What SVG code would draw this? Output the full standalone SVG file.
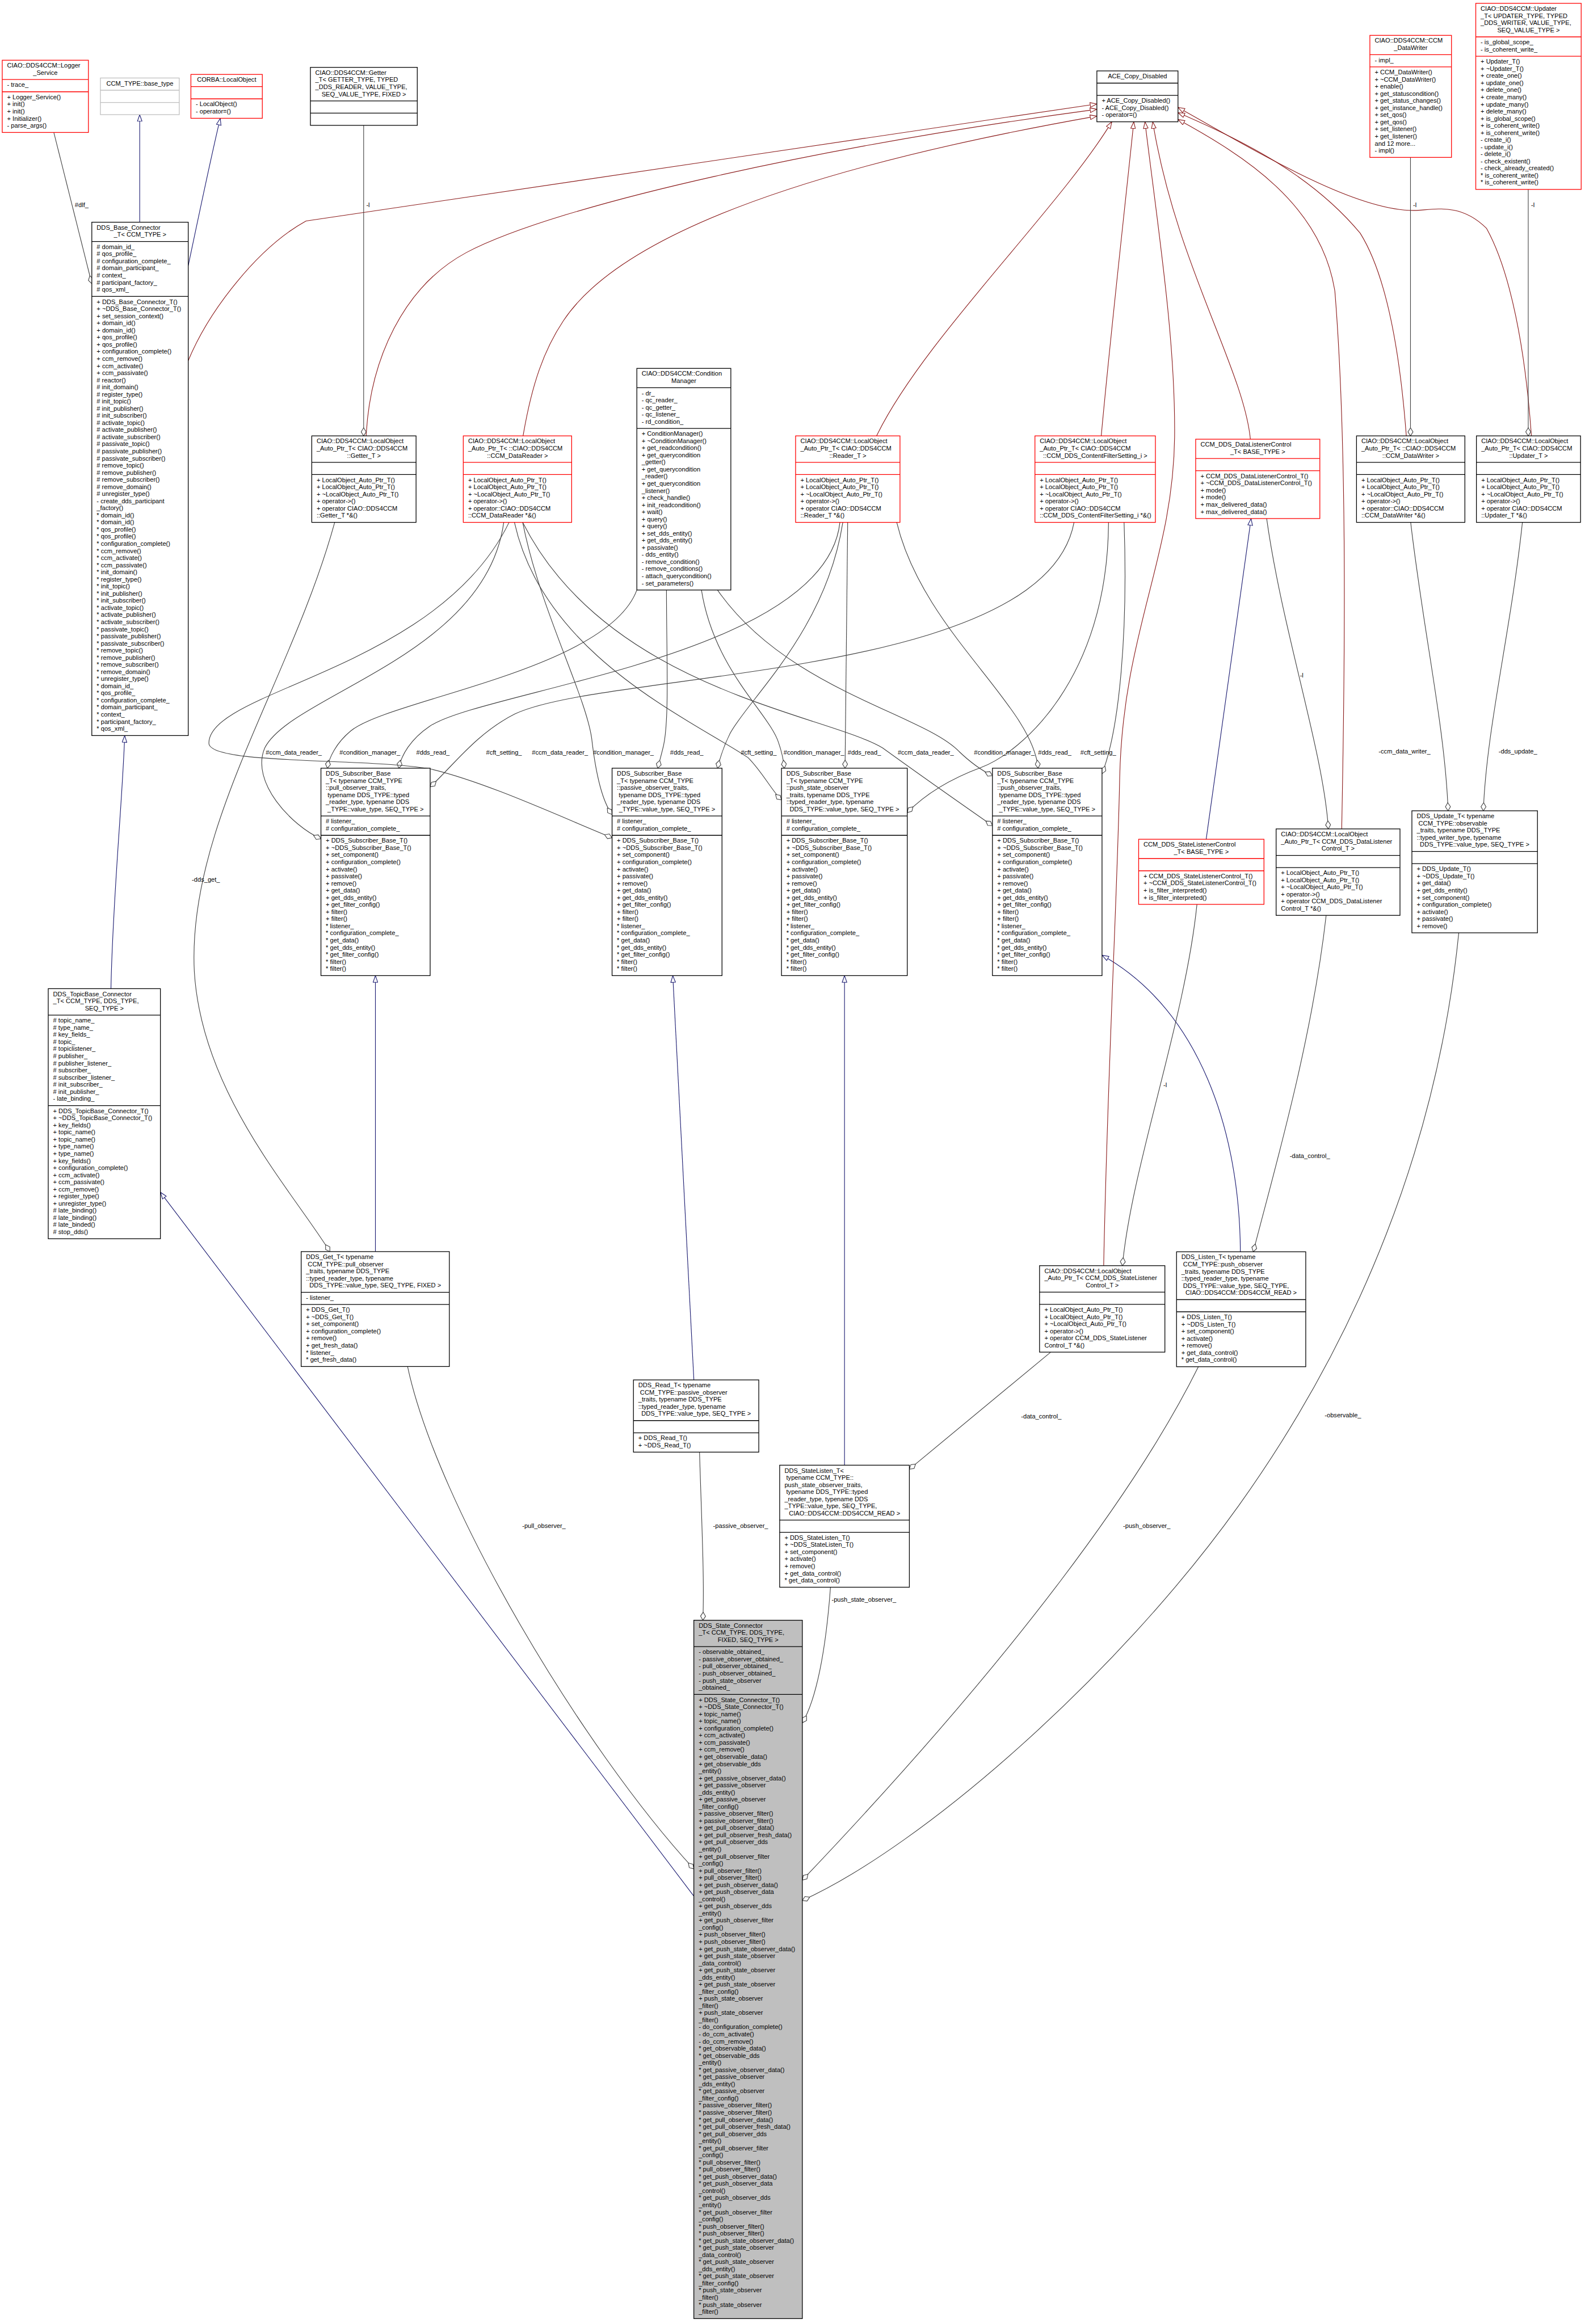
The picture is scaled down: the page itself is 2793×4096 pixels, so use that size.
<svg xmlns="http://www.w3.org/2000/svg" width="2793" height="4096" viewBox="0 0 2793 4096">
<style>
text{font-family:"Liberation Sans",Arial,Helvetica,sans-serif;font-size:13px;fill:#000}
.c{text-anchor:middle}
.n rect{fill:#fff;stroke:#000;stroke-width:1.5}
.n line{stroke:#000;stroke-width:1.5}
.r rect,.r line{stroke:#ff0000}
.g rect,.g line{stroke:#bfbfbf}
.f rect{fill:#bfbfbf}
.e{fill:none;stroke-width:1.3}
.bl{stroke:#191970;marker-end:url(#tb)}
.rd{stroke:#8b1a1a;marker-end:url(#tr)}
.gy{stroke:#404040;marker-end:url(#dm)}
</style>
<defs>
<marker id="tb" viewBox="0 0 15 11" refX="14.5" refY="5.5" markerWidth="15" markerHeight="11" orient="auto" markerUnits="userSpaceOnUse"><path d="M0.7,0.7 L14.3,5.5 L0.7,10.3 z" fill="#fff" stroke="#191970" stroke-width="1.3"/></marker>
<marker id="tr" viewBox="0 0 15 11" refX="14.5" refY="5.5" markerWidth="15" markerHeight="11" orient="auto" markerUnits="userSpaceOnUse"><path d="M0.7,0.7 L14.3,5.5 L0.7,10.3 z" fill="#fff" stroke="#8b1a1a" stroke-width="1.3"/></marker>
<marker id="dm" viewBox="0 0 18 12" refX="17.3" refY="6" markerWidth="18" markerHeight="12" orient="auto" markerUnits="userSpaceOnUse"><path d="M0.7,6 L9,0.8 L17.3,6 L9,11.2 z" fill="#fff" stroke="#404040" stroke-width="1.3"/></marker>
</defs>
<rect width="2793" height="4096" fill="#fff"/>
<g transform="scale(0.856)">
<g id="connectors">
<path class="e bl" d="M287.6,457.5 L287.6,236.05"/>
<path class="e bl" d="M387.5,547 C410,440 435,320 453.5,243.55"/>
<path class="e bl" d="M228.4,2035.6 C232,1850 252,1650 256.7,1514.5"/>
<path class="e bl" d="M1428.3,3904 L330.2,2454.8"/>
<path class="e bl" d="M772.8,2577 L772.8,2008.75"/>
<path class="e bl" d="M1428.4,2841.2 L1385,2008.75"/>
<path class="e bl" d="M1738.5,3016.8 L1738.5,2008.75"/>
<path class="e bl" d="M2553.4,2577.4 C2552,2330 2470,2080 2268.6,1966.7"/>
<path class="e bl" d="M2483,1728 L2575.5,1067.65"/>
<path class="e rd" d="M387.5,742.5 C430,640 530,510 630,455 L2258,214"/>
<path class="e rd" d="M753.7,897.5 C762,740 830,590 960,520 C1150,420 1700,300 2258,225"/>
<path class="e rd" d="M1076.8,897.5 C1095,790 1120,720 1160,660 C1300,450 1800,320 2258,239"/>
<path class="e rd" d="M1804.5,897.5 C1900,700 2180,430 2288.8,250.75"/>
<path class="e rd" d="M2267,897.5 C2285,700 2310,480 2334,250.75"/>
<path class="e rd" d="M2574,904.3 C2560,760 2420,540 2373,250.75"/>
<path class="e rd" d="M2272,2606 C2280,2200 2300,1850 2305,1600 C2312,1300 2415,1150 2418,900 C2420,700 2385,480 2357,250.75"/>
<path class="e rd" d="M2762,1706.7 C2770,1300 2772,900 2748,600 C2720,420 2560,320 2425,246"/>
<path class="e rd" d="M2895,897.5 C2880,700 2850,560 2800,480 C2700,360 2560,290 2425,232"/>
<path class="e rd" d="M3152.5,897.5 C3140,720 3110,560 3060,470 C3010,420 2960,430 2920,433 C2800,440 2600,320 2425,221"/>
<path class="e gy" d="M110.8,272.7 L189,584"/>
<path class="e gy" d="M748.6,258.1 L748.6,897.5"/>
<path class="e gy" d="M2903.6,324.05 L2903.6,897.5"/>
<path class="e gy" d="M3146,390 L3146,897.5"/>
<path class="e gy" d="M689,1075.5 C600,1400 385,1700 400,2000 C415,2250 600,2450 679,2577"/>
<path class="e gy" d="M2607.5,1067.65 C2640,1300 2725,1550 2734.5,1706.7"/>
<path class="e gy" d="M2464,1862.05 C2440,2100 2330,2400 2310.6,2606"/>
<path class="e gy" d="M2904,1075.5 C2930,1300 2975,1500 2981,1669.4"/>
<path class="e gy" d="M3134,1075.5 C3110,1300 3060,1500 3053.6,1669.4"/>
<path class="e gy" d="M2730,1884.7 C2700,2150 2620,2420 2580,2577.4"/>
<path class="e gy" d="M2163,2784 L1872,3025"/>
<path class="e gy" d="M839,2813.6 C900,3100 1200,3600 1428.3,3848"/>
<path class="e gy" d="M1440,2989.9 C1445,3150 1450,3250 1447,3336"/>
<path class="e gy" d="M1709.6,3268.05 C1700,3400 1680,3500 1651.7,3547"/>
<path class="e gy" d="M2467,2814 C2350,3050 2100,3400 1651.7,3871"/>
<path class="e gy" d="M3003,1920.65 C2960,2350 2800,2750 2550,3100 C2300,3450 1900,3800 1651.7,3913"/>
<path class="e gy" d="M1311,1214.85 C1250,1380 800,1440 722,1505 C692,1530 677,1560 674,1581.7"/>
<path class="e gy" d="M1729,1075.5 C1700,1350 1000,1420 885,1495 C845,1522 826,1555 821,1581.7"/>
<path class="e gy" d="M2211,1075.5 C2150,1400 1250,1380 1060,1470 C980,1510 930,1580 885.5,1620"/>
<path class="e gy" d="M1037,1075.5 C1000,1350 600,1430 545,1540 C515,1610 600,1700 660.7,1727"/>
<path class="e gy" d="M1076,1075.5 C1110,1250 1205,1430 1218,1520 C1226,1590 1240,1650 1260,1677"/>
<path class="e gy" d="M1048,1075.5 C900,1380 430,1420 430,1530 C430,1575 750,1560 885,1583 C1000,1610 1150,1680 1260,1725"/>
<path class="e gy" d="M1372,1214.85 C1372,1350 1378,1480 1366,1535 C1361,1556 1357,1570 1354,1581.7"/>
<path class="e gy" d="M1735,1075.5 C1700,1300 1540,1440 1503,1510 C1488,1540 1481,1565 1477,1581.7"/>
<path class="e gy" d="M1059,1075.5 C1120,1350 1420,1480 1540,1560 C1570,1590 1590,1630 1608.75,1647"/>
<path class="e gy" d="M1444,1214.85 C1470,1380 1585,1470 1603,1530 C1610,1550 1613,1566 1614.6,1581.7"/>
<path class="e gy" d="M1745,1075.5 L1739.6,1581.7"/>
<path class="e gy" d="M2282,1075.5 C2280,1400 2100,1550 2020,1580 C1950,1606 1900,1640 1867.7,1673"/>
<path class="e gy" d="M1076,1075.5 C1250,1420 1700,1470 1817,1540 C1900,1600 2000,1670 2043,1700"/>
<path class="e gy" d="M1477,1214.85 C1620,1420 1900,1470 1974,1547 C1998,1570 2020,1586 2043,1597"/>
<path class="e gy" d="M1846,1075.5 C1900,1300 2125,1450 2137,1581.7"/>
<path class="e gy" d="M2314,1075.5 C2322,1300 2305,1500 2268.6,1593"/>
<g id="edge-labels">
<text x="154" y="426.5">#dlf_</text>
<text x="754" y="426.5">-l</text>
<text x="2909" y="426.5">-l</text>
<text x="3152" y="426.5">-l</text>
<text x="395" y="1815">-dds_get_</text>
<text x="2676" y="1395">-l</text>
<text x="2395" y="2238">-l</text>
<text x="2838" y="1551">-ccm_data_writer_</text>
<text x="3085" y="1551">-dds_update_</text>
<text x="2655" y="2384">-data_control_</text>
<text x="2102" y="2920">-data_control_</text>
<text x="1075" y="3146">-pull_observer_</text>
<text x="1468" y="3146">-passive_observer_</text>
<text x="1712" y="3298">-push_state_observer_</text>
<text x="2312" y="3146">-push_observer_</text>
<text x="2727" y="2918">-observable_</text>
<text x="547" y="1553.5">#ccm_data_reader_</text>
<text x="699" y="1553.5">#condition_manager_</text>
<text x="857" y="1553.5">#dds_read_</text>
<text x="1000.6" y="1553.5">#cft_setting_</text>
<text x="1095" y="1553.5">#ccm_data_reader_</text>
<text x="1221" y="1553.5">#condition_manager_</text>
<text x="1379.5" y="1553.5">#dds_read_</text>
<text x="1525" y="1553.5">#cft_setting_</text>
<text x="1613" y="1553.5">#condition_manager_</text>
<text x="1745" y="1553.5">#dds_read_</text>
<text x="1848" y="1553.5">#ccm_data_reader_</text>
<text x="2005" y="1553.5">#condition_manager_</text>
<text x="2137" y="1553.5">#dds_read_</text>
<text x="2224" y="1553.5">#cft_setting_</text>
</g>
</g>

<g id="logger" class="n r">
<rect x="4.6" y="124" width="177.4" height="148.7"/>
<line x1="4.6" y1="163.8" x2="182" y2="163.8"/><line x1="4.6" y1="188.95" x2="182" y2="188.95"/>
<text x="14.6" y="139.4">CIAO::DDS4CCM::Logger</text>
<text class="c" x="93.3" y="154.05">_Service</text>
<text x="14.6" y="179.2">- trace_</text>
<text><tspan x="14.6" y="204.35">+ Logger_Service()</tspan><tspan x="14.6" dy="14.65">+ init()</tspan><tspan x="14.6" dy="14.65">+ init()</tspan><tspan x="14.6" dy="14.65">+ Initializer()</tspan><tspan x="14.6" dy="14.65">- parse_args()</tspan></text>
</g>

<g id="base_type" class="n g">
<rect x="206.7" y="160.6" width="162.3" height="75.45"/>
<line x1="206.7" y1="185.75" x2="369" y2="185.75"/><line x1="206.7" y1="210.9" x2="369" y2="210.9"/>
<text class="c" x="287.85" y="176">CCM_TYPE::base_type</text>
</g>

<g id="corba_localobject" class="n r">
<rect x="393" y="153.25" width="147" height="90.3"/>
<line x1="393" y1="178.4" x2="540" y2="178.4"/><line x1="393" y1="203.55" x2="540" y2="203.55"/>
<text class="c" x="466.5" y="168.65">CORBA::LocalObject</text>
<text><tspan x="403" y="218.95">- LocalObject()</tspan><tspan x="403" dy="14.65">- operator=()</tspan></text>
</g>

<g id="getter_t" class="n">
<rect x="639" y="138.7" width="220" height="119.4"/>
<line x1="639" y1="207.8" x2="859" y2="207.8"/><line x1="639" y1="232.95" x2="859" y2="232.95"/>
<text><tspan x="649" y="154.1">CIAO::DDS4CCM::Getter</tspan><tspan x="649" dy="14.65">_T&lt; GETTER_TYPE, TYPED</tspan><tspan x="649" dy="14.65">_DDS_READER, VALUE_TYPE,</tspan></text>
<text class="c" x="749" y="198.05">SEQ_VALUE_TYPE, FIXED &gt;</text>
</g>

<g id="ace_copy_disabled" class="n">
<rect x="2258" y="146" width="167" height="104.75"/>
<line x1="2258" y1="171.15" x2="2425" y2="171.15"/><line x1="2258" y1="196.3" x2="2425" y2="196.3"/>
<text class="c" x="2341.5" y="161.4">ACE_Copy_Disabled</text>
<text><tspan x="2268" y="211.7">+ ACE_Copy_Disabled()</tspan><tspan x="2268" dy="14.65">- ACE_Copy_Disabled()</tspan><tspan x="2268" dy="14.65">- operator=()</tspan></text>
</g>

<g id="ccm_datawriter" class="n r">
<rect x="2820" y="72.8" width="168" height="251.25"/>
<line x1="2820" y1="112.6" x2="2988" y2="112.6"/><line x1="2820" y1="137.75" x2="2988" y2="137.75"/>
<text x="2830" y="88.2">CIAO::DDS4CCM::CCM</text>
<text class="c" x="2904" y="102.85">_DataWriter</text>
<text x="2830" y="128">- impl_</text>
<text><tspan x="2830" y="153.15">+ CCM_DataWriter()</tspan><tspan x="2830" dy="14.65">+ ~CCM_DataWriter()</tspan><tspan x="2830" dy="14.65">+ enable()</tspan><tspan x="2830" dy="14.65">+ get_statuscondition()</tspan><tspan x="2830" dy="14.65">+ get_status_changes()</tspan><tspan x="2830" dy="14.65">+ get_instance_handle()</tspan><tspan x="2830" dy="14.65">+ set_qos()</tspan><tspan x="2830" dy="14.65">+ get_qos()</tspan><tspan x="2830" dy="14.65">+ set_listener()</tspan><tspan x="2830" dy="14.65">+ get_listener()</tspan><tspan x="2830" dy="14.65">and 12 more...</tspan><tspan x="2830" dy="14.65">- impl()</tspan></text>
</g>

<g id="updater_t" class="n r">
<rect x="3038" y="6.85" width="217" height="383.1"/>
<line x1="3038" y1="75.95" x2="3255" y2="75.95"/><line x1="3038" y1="115.75" x2="3255" y2="115.75"/>
<text><tspan x="3048" y="22.25">CIAO::DDS4CCM::Updater</tspan><tspan x="3048" dy="14.65">_T&lt; UPDATER_TYPE, TYPED</tspan><tspan x="3048" dy="14.65">_DDS_WRITER, VALUE_TYPE,</tspan></text>
<text class="c" x="3146.5" y="66.2">SEQ_VALUE_TYPE &gt;</text>
<text><tspan x="3048" y="91.35">- is_global_scope_</tspan><tspan x="3048" dy="14.65">- is_coherent_write_</tspan></text>
<text><tspan x="3048" y="131.15">+ Updater_T()</tspan><tspan x="3048" dy="14.65">+ ~Updater_T()</tspan><tspan x="3048" dy="14.65">+ create_one()</tspan><tspan x="3048" dy="14.65">+ update_one()</tspan><tspan x="3048" dy="14.65">+ delete_one()</tspan><tspan x="3048" dy="14.65">+ create_many()</tspan><tspan x="3048" dy="14.65">+ update_many()</tspan><tspan x="3048" dy="14.65">+ delete_many()</tspan><tspan x="3048" dy="14.65">+ is_global_scope()</tspan><tspan x="3048" dy="14.65">+ is_coherent_write()</tspan><tspan x="3048" dy="14.65">+ is_coherent_write()</tspan><tspan x="3048" dy="14.65">- create_i()</tspan><tspan x="3048" dy="14.65">- update_i()</tspan><tspan x="3048" dy="14.65">- delete_i()</tspan><tspan x="3048" dy="14.65">- check_existent()</tspan><tspan x="3048" dy="14.65">- check_already_created()</tspan><tspan x="3048" dy="14.65">* is_coherent_write()</tspan><tspan x="3048" dy="14.65">* is_coherent_write()</tspan></text>
</g>

<g id="dds_base_connector" class="n">
<rect x="189" y="457.5" width="198.5" height="1057"/>
<line x1="189" y1="497.3" x2="387.5" y2="497.3"/><line x1="189" y1="610.35" x2="387.5" y2="610.35"/>
<text x="199" y="472.9">DDS_Base_Connector</text>
<text class="c" x="288.25" y="487.55">_T&lt; CCM_TYPE &gt;</text>
<text><tspan x="199" y="512.7"># domain_id_</tspan><tspan x="199" dy="14.65"># qos_profile_</tspan><tspan x="199" dy="14.65"># configuration_complete_</tspan><tspan x="199" dy="14.65"># domain_participant_</tspan><tspan x="199" dy="14.65"># context_</tspan><tspan x="199" dy="14.65"># participant_factory_</tspan><tspan x="199" dy="14.65"># qos_xml_</tspan></text>
<text><tspan x="199" y="625.75">+ DDS_Base_Connector_T()</tspan><tspan x="199" dy="14.65">+ ~DDS_Base_Connector_T()</tspan><tspan x="199" dy="14.65">+ set_session_context()</tspan><tspan x="199" dy="14.65">+ domain_id()</tspan><tspan x="199" dy="14.65">+ domain_id()</tspan><tspan x="199" dy="14.65">+ qos_profile()</tspan><tspan x="199" dy="14.65">+ qos_profile()</tspan><tspan x="199" dy="14.65">+ configuration_complete()</tspan><tspan x="199" dy="14.65">+ ccm_remove()</tspan><tspan x="199" dy="14.65">+ ccm_activate()</tspan><tspan x="199" dy="14.65">+ ccm_passivate()</tspan><tspan x="199" dy="14.65"># reactor()</tspan><tspan x="199" dy="14.65"># init_domain()</tspan><tspan x="199" dy="14.65"># register_type()</tspan><tspan x="199" dy="14.65"># init_topic()</tspan><tspan x="199" dy="14.65"># init_publisher()</tspan><tspan x="199" dy="14.65"># init_subscriber()</tspan><tspan x="199" dy="14.65"># activate_topic()</tspan><tspan x="199" dy="14.65"># activate_publisher()</tspan><tspan x="199" dy="14.65"># activate_subscriber()</tspan><tspan x="199" dy="14.65"># passivate_topic()</tspan><tspan x="199" dy="14.65"># passivate_publisher()</tspan><tspan x="199" dy="14.65"># passivate_subscriber()</tspan><tspan x="199" dy="14.65"># remove_topic()</tspan><tspan x="199" dy="14.65"># remove_publisher()</tspan><tspan x="199" dy="14.65"># remove_subscriber()</tspan><tspan x="199" dy="14.65"># remove_domain()</tspan><tspan x="199" dy="14.65"># unregister_type()</tspan><tspan x="199" dy="14.65">- create_dds_participant</tspan><tspan x="199" dy="14.65">_factory()</tspan><tspan x="199" dy="14.65">* domain_id()</tspan><tspan x="199" dy="14.65">* domain_id()</tspan><tspan x="199" dy="14.65">* qos_profile()</tspan><tspan x="199" dy="14.65">* qos_profile()</tspan><tspan x="199" dy="14.65">* configuration_complete()</tspan><tspan x="199" dy="14.65">* ccm_remove()</tspan><tspan x="199" dy="14.65">* ccm_activate()</tspan><tspan x="199" dy="14.65">* ccm_passivate()</tspan><tspan x="199" dy="14.65">* init_domain()</tspan><tspan x="199" dy="14.65">* register_type()</tspan><tspan x="199" dy="14.65">* init_topic()</tspan><tspan x="199" dy="14.65">* init_publisher()</tspan><tspan x="199" dy="14.65">* init_subscriber()</tspan><tspan x="199" dy="14.65">* activate_topic()</tspan><tspan x="199" dy="14.65">* activate_publisher()</tspan><tspan x="199" dy="14.65">* activate_subscriber()</tspan><tspan x="199" dy="14.65">* passivate_topic()</tspan><tspan x="199" dy="14.65">* passivate_publisher()</tspan><tspan x="199" dy="14.65">* passivate_subscriber()</tspan><tspan x="199" dy="14.65">* remove_topic()</tspan><tspan x="199" dy="14.65">* remove_publisher()</tspan><tspan x="199" dy="14.65">* remove_subscriber()</tspan><tspan x="199" dy="14.65">* remove_domain()</tspan><tspan x="199" dy="14.65">* unregister_type()</tspan><tspan x="199" dy="14.65">* domain_id_</tspan><tspan x="199" dy="14.65">* qos_profile_</tspan><tspan x="199" dy="14.65">* configuration_complete_</tspan><tspan x="199" dy="14.65">* domain_participant_</tspan><tspan x="199" dy="14.65">* context_</tspan><tspan x="199" dy="14.65">* participant_factory_</tspan><tspan x="199" dy="14.65">* qos_xml_</tspan></text>
</g>

<g id="condition_manager" class="n">
<rect x="1311" y="758.5" width="193.5" height="456.35"/>
<line x1="1311" y1="798.3" x2="1504.5" y2="798.3"/><line x1="1311" y1="882.05" x2="1504.5" y2="882.05"/>
<text x="1321" y="773.9">CIAO::DDS4CCM::Condition</text>
<text class="c" x="1407.75" y="788.55">Manager</text>
<text><tspan x="1321" y="813.7">- dr_</tspan><tspan x="1321" dy="14.65">- qc_reader_</tspan><tspan x="1321" dy="14.65">- qc_getter_</tspan><tspan x="1321" dy="14.65">- qc_listener_</tspan><tspan x="1321" dy="14.65">- rd_condition_</tspan></text>
<text><tspan x="1321" y="897.45">+ ConditionManager()</tspan><tspan x="1321" dy="14.65">+ ~ConditionManager()</tspan><tspan x="1321" dy="14.65">+ get_readcondition()</tspan><tspan x="1321" dy="14.65">+ get_querycondition</tspan><tspan x="1321" dy="14.65">_getter()</tspan><tspan x="1321" dy="14.65">+ get_querycondition</tspan><tspan x="1321" dy="14.65">_reader()</tspan><tspan x="1321" dy="14.65">+ get_querycondition</tspan><tspan x="1321" dy="14.65">_listener()</tspan><tspan x="1321" dy="14.65">+ check_handle()</tspan><tspan x="1321" dy="14.65">+ init_readcondition()</tspan><tspan x="1321" dy="14.65">+ wait()</tspan><tspan x="1321" dy="14.65">+ query()</tspan><tspan x="1321" dy="14.65">+ query()</tspan><tspan x="1321" dy="14.65">+ set_dds_entity()</tspan><tspan x="1321" dy="14.65">+ get_dds_entity()</tspan><tspan x="1321" dy="14.65">+ passivate()</tspan><tspan x="1321" dy="14.65">- dds_entity()</tspan><tspan x="1321" dy="14.65">- remove_condition()</tspan><tspan x="1321" dy="14.65">- remove_conditions()</tspan><tspan x="1321" dy="14.65">- attach_querycondition()</tspan><tspan x="1321" dy="14.65">- set_parameters()</tspan></text>
</g>

<g id="autoptr_getter" class="n">
<rect x="641.8" y="897.5" width="214.7" height="178"/>
<line x1="641.8" y1="951.95" x2="856.5" y2="951.95"/><line x1="641.8" y1="977.1" x2="856.5" y2="977.1"/>
<text><tspan x="651.8" y="912.9">CIAO::DDS4CCM::LocalObject</tspan><tspan x="651.8" dy="14.65">_Auto_Ptr_T&lt; CIAO::DDS4CCM</tspan></text>
<text class="c" x="749.15" y="942.2">::Getter_T &gt;</text>
<text><tspan x="651.8" y="992.5">+ LocalObject_Auto_Ptr_T()</tspan><tspan x="651.8" dy="14.65">+ LocalObject_Auto_Ptr_T()</tspan><tspan x="651.8" dy="14.65">+ ~LocalObject_Auto_Ptr_T()</tspan><tspan x="651.8" dy="14.65">+ operator-&gt;()</tspan><tspan x="651.8" dy="14.65">+ operator CIAO::DDS4CCM</tspan><tspan x="651.8" dy="14.65">::Getter_T *&amp;()</tspan></text>
</g>

<g id="autoptr_datareader" class="n r">
<rect x="953.7" y="897.5" width="223.1" height="178"/>
<line x1="953.7" y1="951.95" x2="1176.8" y2="951.95"/><line x1="953.7" y1="977.1" x2="1176.8" y2="977.1"/>
<text><tspan x="963.7" y="912.9">CIAO::DDS4CCM::LocalObject</tspan><tspan x="963.7" dy="14.65">_Auto_Ptr_T&lt; ::CIAO::DDS4CCM</tspan></text>
<text class="c" x="1065.25" y="942.2">::CCM_DataReader &gt;</text>
<text><tspan x="963.7" y="992.5">+ LocalObject_Auto_Ptr_T()</tspan><tspan x="963.7" dy="14.65">+ LocalObject_Auto_Ptr_T()</tspan><tspan x="963.7" dy="14.65">+ ~LocalObject_Auto_Ptr_T()</tspan><tspan x="963.7" dy="14.65">+ operator-&gt;()</tspan><tspan x="963.7" dy="14.65">+ operator::CIAO::DDS4CCM</tspan><tspan x="963.7" dy="14.65">::CCM_DataReader *&amp;()</tspan></text>
</g>

<g id="autoptr_reader" class="n r">
<rect x="1637.8" y="897.5" width="214.9" height="178"/>
<line x1="1637.8" y1="951.95" x2="1852.7" y2="951.95"/><line x1="1637.8" y1="977.1" x2="1852.7" y2="977.1"/>
<text><tspan x="1647.8" y="912.9">CIAO::DDS4CCM::LocalObject</tspan><tspan x="1647.8" dy="14.65">_Auto_Ptr_T&lt; CIAO::DDS4CCM</tspan></text>
<text class="c" x="1745.25" y="942.2">::Reader_T &gt;</text>
<text><tspan x="1647.8" y="992.5">+ LocalObject_Auto_Ptr_T()</tspan><tspan x="1647.8" dy="14.65">+ LocalObject_Auto_Ptr_T()</tspan><tspan x="1647.8" dy="14.65">+ ~LocalObject_Auto_Ptr_T()</tspan><tspan x="1647.8" dy="14.65">+ operator-&gt;()</tspan><tspan x="1647.8" dy="14.65">+ operator CIAO::DDS4CCM</tspan><tspan x="1647.8" dy="14.65">::Reader_T *&amp;()</tspan></text>
</g>

<g id="autoptr_cfs" class="n r">
<rect x="2130.5" y="897.5" width="248" height="178"/>
<line x1="2130.5" y1="951.95" x2="2378.5" y2="951.95"/><line x1="2130.5" y1="977.1" x2="2378.5" y2="977.1"/>
<text><tspan x="2140.5" y="912.9">CIAO::DDS4CCM::LocalObject</tspan><tspan x="2140.5" dy="14.65">_Auto_Ptr_T&lt; CIAO::DDS4CCM</tspan></text>
<text class="c" x="2254.5" y="942.2">::CCM_DDS_ContentFilterSetting_i &gt;</text>
<text><tspan x="2140.5" y="992.5">+ LocalObject_Auto_Ptr_T()</tspan><tspan x="2140.5" dy="14.65">+ LocalObject_Auto_Ptr_T()</tspan><tspan x="2140.5" dy="14.65">+ ~LocalObject_Auto_Ptr_T()</tspan><tspan x="2140.5" dy="14.65">+ operator-&gt;()</tspan><tspan x="2140.5" dy="14.65">+ operator CIAO::DDS4CCM</tspan><tspan x="2140.5" dy="14.65">::CCM_DDS_ContentFilterSetting_i *&amp;()</tspan></text>
</g>

<g id="dlc" class="n r">
<rect x="2461.4" y="904.3" width="255.6" height="163.35"/>
<line x1="2461.4" y1="944.1" x2="2717" y2="944.1"/><line x1="2461.4" y1="969.25" x2="2717" y2="969.25"/>
<text x="2471.4" y="919.7">CCM_DDS_DataListenerControl</text>
<text class="c" x="2589.2" y="934.35">_T&lt; BASE_TYPE &gt;</text>
<text><tspan x="2471.4" y="984.65">+ CCM_DDS_DataListenerControl_T()</tspan><tspan x="2471.4" dy="14.65">+ ~CCM_DDS_DataListenerControl_T()</tspan><tspan x="2471.4" dy="14.65">+ mode()</tspan><tspan x="2471.4" dy="14.65">+ mode()</tspan><tspan x="2471.4" dy="14.65">+ max_delivered_data()</tspan><tspan x="2471.4" dy="14.65">+ max_delivered_data()</tspan></text>
</g>

<g id="autoptr_datawriter" class="n">
<rect x="2792.5" y="897.5" width="223.1" height="178"/>
<line x1="2792.5" y1="951.95" x2="3015.6" y2="951.95"/><line x1="2792.5" y1="977.1" x2="3015.6" y2="977.1"/>
<text><tspan x="2802.5" y="912.9">CIAO::DDS4CCM::LocalObject</tspan><tspan x="2802.5" dy="14.65">_Auto_Ptr_T&lt; ::CIAO::DDS4CCM</tspan></text>
<text class="c" x="2904.05" y="942.2">::CCM_DataWriter &gt;</text>
<text><tspan x="2802.5" y="992.5">+ LocalObject_Auto_Ptr_T()</tspan><tspan x="2802.5" dy="14.65">+ LocalObject_Auto_Ptr_T()</tspan><tspan x="2802.5" dy="14.65">+ ~LocalObject_Auto_Ptr_T()</tspan><tspan x="2802.5" dy="14.65">+ operator-&gt;()</tspan><tspan x="2802.5" dy="14.65">+ operator::CIAO::DDS4CCM</tspan><tspan x="2802.5" dy="14.65">::CCM_DataWriter *&amp;()</tspan></text>
</g>

<g id="autoptr_updater" class="n">
<rect x="3039.3" y="897.5" width="214.4" height="178"/>
<line x1="3039.3" y1="951.95" x2="3253.7" y2="951.95"/><line x1="3039.3" y1="977.1" x2="3253.7" y2="977.1"/>
<text><tspan x="3049.3" y="912.9">CIAO::DDS4CCM::LocalObject</tspan><tspan x="3049.3" dy="14.65">_Auto_Ptr_T&lt; CIAO::DDS4CCM</tspan></text>
<text class="c" x="3146.5" y="942.2">::Updater_T &gt;</text>
<text><tspan x="3049.3" y="992.5">+ LocalObject_Auto_Ptr_T()</tspan><tspan x="3049.3" dy="14.65">+ LocalObject_Auto_Ptr_T()</tspan><tspan x="3049.3" dy="14.65">+ ~LocalObject_Auto_Ptr_T()</tspan><tspan x="3049.3" dy="14.65">+ operator-&gt;()</tspan><tspan x="3049.3" dy="14.65">+ operator CIAO::DDS4CCM</tspan><tspan x="3049.3" dy="14.65">::Updater_T *&amp;()</tspan></text>
</g>

<g id="sub_pull" class="n">
<rect x="660.7" y="1581.7" width="224.8" height="427.05"/>
<line x1="660.7" y1="1680.1" x2="885.5" y2="1680.1"/><line x1="660.7" y1="1719.9" x2="885.5" y2="1719.9"/>
<text><tspan x="670.7" y="1597.1">DDS_Subscriber_Base</tspan><tspan x="670.7" dy="14.65">_T&lt; typename CCM_TYPE</tspan><tspan x="670.7" dy="14.65">::pull_observer_traits,</tspan><tspan x="674.3" dy="14.65">typename DDS_TYPE::typed</tspan><tspan x="670.7" dy="14.65">_reader_type, typename DDS</tspan></text>
<text class="c" x="773.1" y="1670.35">_TYPE::value_type, SEQ_TYPE &gt;</text>
<text><tspan x="670.7" y="1695.5"># listener_</tspan><tspan x="670.7" dy="14.65"># configuration_complete_</tspan></text>
<text><tspan x="670.7" y="1735.3">+ DDS_Subscriber_Base_T()</tspan><tspan x="670.7" dy="14.65">+ ~DDS_Subscriber_Base_T()</tspan><tspan x="670.7" dy="14.65">+ set_component()</tspan><tspan x="670.7" dy="14.65">+ configuration_complete()</tspan><tspan x="670.7" dy="14.65">+ activate()</tspan><tspan x="670.7" dy="14.65">+ passivate()</tspan><tspan x="670.7" dy="14.65">+ remove()</tspan><tspan x="670.7" dy="14.65">+ get_data()</tspan><tspan x="670.7" dy="14.65">+ get_dds_entity()</tspan><tspan x="670.7" dy="14.65">+ get_filter_config()</tspan><tspan x="670.7" dy="14.65">+ filter()</tspan><tspan x="670.7" dy="14.65">+ filter()</tspan><tspan x="670.7" dy="14.65">* listener_</tspan><tspan x="670.7" dy="14.65">* configuration_complete_</tspan><tspan x="670.7" dy="14.65">* get_data()</tspan><tspan x="670.7" dy="14.65">* get_dds_entity()</tspan><tspan x="670.7" dy="14.65">* get_filter_config()</tspan><tspan x="670.7" dy="14.65">* filter()</tspan><tspan x="670.7" dy="14.65">* filter()</tspan></text>
</g>

<g id="sub_passive" class="n">
<rect x="1260" y="1581.7" width="226.3" height="427.05"/>
<line x1="1260" y1="1680.1" x2="1486.3" y2="1680.1"/><line x1="1260" y1="1719.9" x2="1486.3" y2="1719.9"/>
<text><tspan x="1270" y="1597.1">DDS_Subscriber_Base</tspan><tspan x="1270" dy="14.65">_T&lt; typename CCM_TYPE</tspan><tspan x="1270" dy="14.65">::passive_observer_traits,</tspan><tspan x="1273.6" dy="14.65">typename DDS_TYPE::typed</tspan><tspan x="1270" dy="14.65">_reader_type, typename DDS</tspan></text>
<text class="c" x="1373.15" y="1670.35">_TYPE::value_type, SEQ_TYPE &gt;</text>
<text><tspan x="1270" y="1695.5"># listener_</tspan><tspan x="1270" dy="14.65"># configuration_complete_</tspan></text>
<text><tspan x="1270" y="1735.3">+ DDS_Subscriber_Base_T()</tspan><tspan x="1270" dy="14.65">+ ~DDS_Subscriber_Base_T()</tspan><tspan x="1270" dy="14.65">+ set_component()</tspan><tspan x="1270" dy="14.65">+ configuration_complete()</tspan><tspan x="1270" dy="14.65">+ activate()</tspan><tspan x="1270" dy="14.65">+ passivate()</tspan><tspan x="1270" dy="14.65">+ remove()</tspan><tspan x="1270" dy="14.65">+ get_data()</tspan><tspan x="1270" dy="14.65">+ get_dds_entity()</tspan><tspan x="1270" dy="14.65">+ get_filter_config()</tspan><tspan x="1270" dy="14.65">+ filter()</tspan><tspan x="1270" dy="14.65">+ filter()</tspan><tspan x="1270" dy="14.65">* listener_</tspan><tspan x="1270" dy="14.65">* configuration_complete_</tspan><tspan x="1270" dy="14.65">* get_data()</tspan><tspan x="1270" dy="14.65">* get_dds_entity()</tspan><tspan x="1270" dy="14.65">* get_filter_config()</tspan><tspan x="1270" dy="14.65">* filter()</tspan><tspan x="1270" dy="14.65">* filter()</tspan></text>
</g>

<g id="sub_push_state" class="n">
<rect x="1608.75" y="1581.7" width="258.95" height="427.05"/>
<line x1="1608.75" y1="1680.1" x2="1867.7" y2="1680.1"/><line x1="1608.75" y1="1719.9" x2="1867.7" y2="1719.9"/>
<text><tspan x="1618.75" y="1597.1">DDS_Subscriber_Base</tspan><tspan x="1618.75" dy="14.65">_T&lt; typename CCM_TYPE</tspan><tspan x="1618.75" dy="14.65">::push_state_observer</tspan><tspan x="1618.75" dy="14.65">_traits, typename DDS_TYPE</tspan><tspan x="1618.75" dy="14.65">::typed_reader_type, typename</tspan></text>
<text class="c" x="1738.2" y="1670.35">DDS_TYPE::value_type, SEQ_TYPE &gt;</text>
<text><tspan x="1618.75" y="1695.5"># listener_</tspan><tspan x="1618.75" dy="14.65"># configuration_complete_</tspan></text>
<text><tspan x="1618.75" y="1735.3">+ DDS_Subscriber_Base_T()</tspan><tspan x="1618.75" dy="14.65">+ ~DDS_Subscriber_Base_T()</tspan><tspan x="1618.75" dy="14.65">+ set_component()</tspan><tspan x="1618.75" dy="14.65">+ configuration_complete()</tspan><tspan x="1618.75" dy="14.65">+ activate()</tspan><tspan x="1618.75" dy="14.65">+ passivate()</tspan><tspan x="1618.75" dy="14.65">+ remove()</tspan><tspan x="1618.75" dy="14.65">+ get_data()</tspan><tspan x="1618.75" dy="14.65">+ get_dds_entity()</tspan><tspan x="1618.75" dy="14.65">+ get_filter_config()</tspan><tspan x="1618.75" dy="14.65">+ filter()</tspan><tspan x="1618.75" dy="14.65">+ filter()</tspan><tspan x="1618.75" dy="14.65">* listener_</tspan><tspan x="1618.75" dy="14.65">* configuration_complete_</tspan><tspan x="1618.75" dy="14.65">* get_data()</tspan><tspan x="1618.75" dy="14.65">* get_dds_entity()</tspan><tspan x="1618.75" dy="14.65">* get_filter_config()</tspan><tspan x="1618.75" dy="14.65">* filter()</tspan><tspan x="1618.75" dy="14.65">* filter()</tspan></text>
</g>

<g id="sub_push" class="n">
<rect x="2043" y="1581.7" width="225.6" height="427.05"/>
<line x1="2043" y1="1680.1" x2="2268.6" y2="1680.1"/><line x1="2043" y1="1719.9" x2="2268.6" y2="1719.9"/>
<text><tspan x="2053" y="1597.1">DDS_Subscriber_Base</tspan><tspan x="2053" dy="14.65">_T&lt; typename CCM_TYPE</tspan><tspan x="2053" dy="14.65">::push_observer_traits,</tspan><tspan x="2056.6" dy="14.65">typename DDS_TYPE::typed</tspan><tspan x="2053" dy="14.65">_reader_type, typename DDS</tspan></text>
<text class="c" x="2155.8" y="1670.35">_TYPE::value_type, SEQ_TYPE &gt;</text>
<text><tspan x="2053" y="1695.5"># listener_</tspan><tspan x="2053" dy="14.65"># configuration_complete_</tspan></text>
<text><tspan x="2053" y="1735.3">+ DDS_Subscriber_Base_T()</tspan><tspan x="2053" dy="14.65">+ ~DDS_Subscriber_Base_T()</tspan><tspan x="2053" dy="14.65">+ set_component()</tspan><tspan x="2053" dy="14.65">+ configuration_complete()</tspan><tspan x="2053" dy="14.65">+ activate()</tspan><tspan x="2053" dy="14.65">+ passivate()</tspan><tspan x="2053" dy="14.65">+ remove()</tspan><tspan x="2053" dy="14.65">+ get_data()</tspan><tspan x="2053" dy="14.65">+ get_dds_entity()</tspan><tspan x="2053" dy="14.65">+ get_filter_config()</tspan><tspan x="2053" dy="14.65">+ filter()</tspan><tspan x="2053" dy="14.65">+ filter()</tspan><tspan x="2053" dy="14.65">* listener_</tspan><tspan x="2053" dy="14.65">* configuration_complete_</tspan><tspan x="2053" dy="14.65">* get_data()</tspan><tspan x="2053" dy="14.65">* get_dds_entity()</tspan><tspan x="2053" dy="14.65">* get_filter_config()</tspan><tspan x="2053" dy="14.65">* filter()</tspan><tspan x="2053" dy="14.65">* filter()</tspan></text>
</g>

<g id="slc" class="n r">
<rect x="2344" y="1728" width="258" height="134.05"/>
<line x1="2344" y1="1767.8" x2="2602" y2="1767.8"/><line x1="2344" y1="1792.95" x2="2602" y2="1792.95"/>
<text x="2354" y="1743.4">CCM_DDS_StateListenerControl</text>
<text class="c" x="2473" y="1758.05">_T&lt; BASE_TYPE &gt;</text>
<text><tspan x="2354" y="1808.35">+ CCM_DDS_StateListenerControl_T()</tspan><tspan x="2354" dy="14.65">+ ~CCM_DDS_StateListenerControl_T()</tspan><tspan x="2354" dy="14.65">+ is_filter_interpreted()</tspan><tspan x="2354" dy="14.65">+ is_filter_interpreted()</tspan></text>
</g>

<g id="autoptr_dlc" class="n">
<rect x="2627" y="1706.7" width="255" height="178"/>
<line x1="2627" y1="1761.15" x2="2882" y2="1761.15"/><line x1="2627" y1="1786.3" x2="2882" y2="1786.3"/>
<text><tspan x="2637" y="1722.1">CIAO::DDS4CCM::LocalObject</tspan><tspan x="2637" dy="14.65">_Auto_Ptr_T&lt; CCM_DDS_DataListener</tspan></text>
<text class="c" x="2754.5" y="1751.4">Control_T &gt;</text>
<text><tspan x="2637" y="1801.7">+ LocalObject_Auto_Ptr_T()</tspan><tspan x="2637" dy="14.65">+ LocalObject_Auto_Ptr_T()</tspan><tspan x="2637" dy="14.65">+ ~LocalObject_Auto_Ptr_T()</tspan><tspan x="2637" dy="14.65">+ operator-&gt;()</tspan><tspan x="2637" dy="14.65">+ operator CCM_DDS_DataListener</tspan><tspan x="2637" dy="14.65">Control_T *&amp;()</tspan></text>
</g>

<g id="dds_update_t" class="n">
<rect x="2906.5" y="1669.4" width="258.5" height="251.25"/>
<line x1="2906.5" y1="1753.15" x2="3165" y2="1753.15"/><line x1="2906.5" y1="1778.3" x2="3165" y2="1778.3"/>
<text><tspan x="2916.5" y="1684.8">DDS_Update_T&lt; typename</tspan><tspan x="2920.1" dy="14.65">CCM_TYPE::observable</tspan><tspan x="2916.5" dy="14.65">_traits, typename DDS_TYPE</tspan><tspan x="2916.5" dy="14.65">::typed_writer_type, typename</tspan></text>
<text class="c" x="3035.75" y="1743.4">DDS_TYPE::value_type, SEQ_TYPE &gt;</text>
<text><tspan x="2916.5" y="1793.7">+ DDS_Update_T()</tspan><tspan x="2916.5" dy="14.65">+ ~DDS_Update_T()</tspan><tspan x="2916.5" dy="14.65">+ get_data()</tspan><tspan x="2916.5" dy="14.65">+ get_dds_entity()</tspan><tspan x="2916.5" dy="14.65">+ set_component()</tspan><tspan x="2916.5" dy="14.65">+ configuration_complete()</tspan><tspan x="2916.5" dy="14.65">+ activate()</tspan><tspan x="2916.5" dy="14.65">+ passivate()</tspan><tspan x="2916.5" dy="14.65">+ remove()</tspan></text>
</g>

<g id="topicbase_connector" class="n">
<rect x="99.3" y="2035.6" width="230.9" height="514.95"/>
<line x1="99.3" y1="2090.05" x2="330.2" y2="2090.05"/><line x1="99.3" y1="2276.35" x2="330.2" y2="2276.35"/>
<text><tspan x="109.3" y="2051">DDS_TopicBase_Connector</tspan><tspan x="109.3" dy="14.65">_T&lt; CCM_TYPE, DDS_TYPE,</tspan></text>
<text class="c" x="214.75" y="2080.3">SEQ_TYPE &gt;</text>
<text><tspan x="109.3" y="2105.45"># topic_name_</tspan><tspan x="109.3" dy="14.65"># type_name_</tspan><tspan x="109.3" dy="14.65"># key_fields_</tspan><tspan x="109.3" dy="14.65"># topic_</tspan><tspan x="109.3" dy="14.65"># topiclistener_</tspan><tspan x="109.3" dy="14.65"># publisher_</tspan><tspan x="109.3" dy="14.65"># publisher_listener_</tspan><tspan x="109.3" dy="14.65"># subscriber_</tspan><tspan x="109.3" dy="14.65"># subscriber_listener_</tspan><tspan x="109.3" dy="14.65"># init_subscriber_</tspan><tspan x="109.3" dy="14.65"># init_publisher_</tspan><tspan x="109.3" dy="14.65">- late_binding_</tspan></text>
<text><tspan x="109.3" y="2291.75">+ DDS_TopicBase_Connector_T()</tspan><tspan x="109.3" dy="14.65">+ ~DDS_TopicBase_Connector_T()</tspan><tspan x="109.3" dy="14.65">+ key_fields()</tspan><tspan x="109.3" dy="14.65">+ topic_name()</tspan><tspan x="109.3" dy="14.65">+ topic_name()</tspan><tspan x="109.3" dy="14.65">+ type_name()</tspan><tspan x="109.3" dy="14.65">+ type_name()</tspan><tspan x="109.3" dy="14.65">+ key_fields()</tspan><tspan x="109.3" dy="14.65">+ configuration_complete()</tspan><tspan x="109.3" dy="14.65">+ ccm_activate()</tspan><tspan x="109.3" dy="14.65">+ ccm_passivate()</tspan><tspan x="109.3" dy="14.65">+ ccm_remove()</tspan><tspan x="109.3" dy="14.65">+ register_type()</tspan><tspan x="109.3" dy="14.65">+ unregister_type()</tspan><tspan x="109.3" dy="14.65"># late_binding()</tspan><tspan x="109.3" dy="14.65"># late_binding()</tspan><tspan x="109.3" dy="14.65"># late_binded()</tspan><tspan x="109.3" dy="14.65"># stop_dds()</tspan></text>
</g>

<g id="dds_get_t" class="n">
<rect x="620" y="2577" width="305" height="236.6"/>
<line x1="620" y1="2660.75" x2="925" y2="2660.75"/><line x1="620" y1="2685.9" x2="925" y2="2685.9"/>
<text><tspan x="630" y="2592.4">DDS_Get_T&lt; typename</tspan><tspan x="633.6" dy="14.65">CCM_TYPE::pull_observer</tspan><tspan x="630" dy="14.65">_traits, typename DDS_TYPE</tspan><tspan x="630" dy="14.65">::typed_reader_type, typename</tspan></text>
<text class="c" x="772.5" y="2651">DDS_TYPE::value_type, SEQ_TYPE, FIXED &gt;</text>
<text x="630" y="2676.15">- listener_</text>
<text><tspan x="630" y="2701.3">+ DDS_Get_T()</tspan><tspan x="630" dy="14.65">+ ~DDS_Get_T()</tspan><tspan x="630" dy="14.65">+ set_component()</tspan><tspan x="630" dy="14.65">+ configuration_complete()</tspan><tspan x="630" dy="14.65">+ remove()</tspan><tspan x="630" dy="14.65">+ get_fresh_data()</tspan><tspan x="630" dy="14.65">* listener_</tspan><tspan x="630" dy="14.65">* get_fresh_data()</tspan></text>
</g>

<g id="autoptr_slc" class="n">
<rect x="2140" y="2606" width="258" height="178"/>
<line x1="2140" y1="2660.45" x2="2398" y2="2660.45"/><line x1="2140" y1="2685.6" x2="2398" y2="2685.6"/>
<text><tspan x="2150" y="2621.4">CIAO::DDS4CCM::LocalObject</tspan><tspan x="2150" dy="14.65">_Auto_Ptr_T&lt; CCM_DDS_StateListener</tspan></text>
<text class="c" x="2269" y="2650.7">Control_T &gt;</text>
<text><tspan x="2150" y="2701">+ LocalObject_Auto_Ptr_T()</tspan><tspan x="2150" dy="14.65">+ LocalObject_Auto_Ptr_T()</tspan><tspan x="2150" dy="14.65">+ ~LocalObject_Auto_Ptr_T()</tspan><tspan x="2150" dy="14.65">+ operator-&gt;()</tspan><tspan x="2150" dy="14.65">+ operator CCM_DDS_StateListener</tspan><tspan x="2150" dy="14.65">Control_T *&amp;()</tspan></text>
</g>

<g id="dds_listen_t" class="n">
<rect x="2422" y="2577.4" width="266" height="236.6"/>
<line x1="2422" y1="2675.8" x2="2688" y2="2675.8"/><line x1="2422" y1="2700.95" x2="2688" y2="2700.95"/>
<text><tspan x="2432" y="2592.8">DDS_Listen_T&lt; typename</tspan><tspan x="2435.6" dy="14.65">CCM_TYPE::push_observer</tspan><tspan x="2432" dy="14.65">_traits, typename DDS_TYPE</tspan><tspan x="2432" dy="14.65">::typed_reader_type, typename</tspan><tspan x="2435.6" dy="14.65">DDS_TYPE::value_type, SEQ_TYPE,</tspan></text>
<text class="c" x="2555" y="2666.05">CIAO::DDS4CCM::DDS4CCM_READ &gt;</text>
<text><tspan x="2432" y="2716.35">+ DDS_Listen_T()</tspan><tspan x="2432" dy="14.65">+ ~DDS_Listen_T()</tspan><tspan x="2432" dy="14.65">+ set_component()</tspan><tspan x="2432" dy="14.65">+ activate()</tspan><tspan x="2432" dy="14.65">+ remove()</tspan><tspan x="2432" dy="14.65">+ get_data_control()</tspan><tspan x="2432" dy="14.65">* get_data_control()</tspan></text>
</g>

<g id="dds_read_t" class="n">
<rect x="1304" y="2841.2" width="258" height="148.7"/>
<line x1="1304" y1="2924.95" x2="1562" y2="2924.95"/><line x1="1304" y1="2950.1" x2="1562" y2="2950.1"/>
<text><tspan x="1314" y="2856.6">DDS_Read_T&lt; typename</tspan><tspan x="1317.6" dy="14.65">CCM_TYPE::passive_observer</tspan><tspan x="1314" dy="14.65">_traits, typename DDS_TYPE</tspan><tspan x="1314" dy="14.65">::typed_reader_type, typename</tspan></text>
<text class="c" x="1433" y="2915.2">DDS_TYPE::value_type, SEQ_TYPE &gt;</text>
<text><tspan x="1314" y="2965.5">+ DDS_Read_T()</tspan><tspan x="1314" dy="14.65">+ ~DDS_Read_T()</tspan></text>
</g>

<g id="dds_statelisten_t" class="n">
<rect x="1605" y="3016.8" width="267" height="251.25"/>
<line x1="1605" y1="3129.85" x2="1872" y2="3129.85"/><line x1="1605" y1="3155" x2="1872" y2="3155"/>
<text><tspan x="1615" y="3032.2">DDS_StateListen_T&lt;</tspan><tspan x="1618.6" dy="14.65">typename CCM_TYPE::</tspan><tspan x="1615" dy="14.65">push_state_observer_traits,</tspan><tspan x="1618.6" dy="14.65">typename DDS_TYPE::typed</tspan><tspan x="1615" dy="14.65">_reader_type, typename DDS</tspan><tspan x="1615" dy="14.65">_TYPE::value_type, SEQ_TYPE,</tspan></text>
<text class="c" x="1738.5" y="3120.1">CIAO::DDS4CCM::DDS4CCM_READ &gt;</text>
<text><tspan x="1615" y="3170.4">+ DDS_StateListen_T()</tspan><tspan x="1615" dy="14.65">+ ~DDS_StateListen_T()</tspan><tspan x="1615" dy="14.65">+ set_component()</tspan><tspan x="1615" dy="14.65">+ activate()</tspan><tspan x="1615" dy="14.65">+ remove()</tspan><tspan x="1615" dy="14.65">+ get_data_control()</tspan><tspan x="1615" dy="14.65">* get_data_control()</tspan></text>
</g>

<g id="dds_state_connector" class="n f">
<rect x="1428.3" y="3336" width="223.4" height="1437.9"/>
<line x1="1428.3" y1="3390.45" x2="1651.7" y2="3390.45"/><line x1="1428.3" y1="3488.85" x2="1651.7" y2="3488.85"/>
<text><tspan x="1438.3" y="3351.4">DDS_State_Connector</tspan><tspan x="1438.3" dy="14.65">_T&lt; CCM_TYPE, DDS_TYPE,</tspan></text>
<text class="c" x="1540" y="3380.7">FIXED, SEQ_TYPE &gt;</text>
<text><tspan x="1438.3" y="3405.85">- observable_obtained_</tspan><tspan x="1438.3" dy="14.65">- passive_observer_obtained_</tspan><tspan x="1438.3" dy="14.65">- pull_observer_obtained_</tspan><tspan x="1438.3" dy="14.65">- push_observer_obtained_</tspan><tspan x="1438.3" dy="14.65">- push_state_observer</tspan><tspan x="1438.3" dy="14.65">_obtained_</tspan></text>
<text><tspan x="1438.3" y="3504.25">+ DDS_State_Connector_T()</tspan><tspan x="1438.3" dy="14.65">+ ~DDS_State_Connector_T()</tspan><tspan x="1438.3" dy="14.65">+ topic_name()</tspan><tspan x="1438.3" dy="14.65">+ topic_name()</tspan><tspan x="1438.3" dy="14.65">+ configuration_complete()</tspan><tspan x="1438.3" dy="14.65">+ ccm_activate()</tspan><tspan x="1438.3" dy="14.65">+ ccm_passivate()</tspan><tspan x="1438.3" dy="14.65">+ ccm_remove()</tspan><tspan x="1438.3" dy="14.65">+ get_observable_data()</tspan><tspan x="1438.3" dy="14.65">+ get_observable_dds</tspan><tspan x="1438.3" dy="14.65">_entity()</tspan><tspan x="1438.3" dy="14.65">+ get_passive_observer_data()</tspan><tspan x="1438.3" dy="14.65">+ get_passive_observer</tspan><tspan x="1438.3" dy="14.65">_dds_entity()</tspan><tspan x="1438.3" dy="14.65">+ get_passive_observer</tspan><tspan x="1438.3" dy="14.65">_filter_config()</tspan><tspan x="1438.3" dy="14.65">+ passive_observer_filter()</tspan><tspan x="1438.3" dy="14.65">+ passive_observer_filter()</tspan><tspan x="1438.3" dy="14.65">+ get_pull_observer_data()</tspan><tspan x="1438.3" dy="14.65">+ get_pull_observer_fresh_data()</tspan><tspan x="1438.3" dy="14.65">+ get_pull_observer_dds</tspan><tspan x="1438.3" dy="14.65">_entity()</tspan><tspan x="1438.3" dy="14.65">+ get_pull_observer_filter</tspan><tspan x="1438.3" dy="14.65">_config()</tspan><tspan x="1438.3" dy="14.65">+ pull_observer_filter()</tspan><tspan x="1438.3" dy="14.65">+ pull_observer_filter()</tspan><tspan x="1438.3" dy="14.65">+ get_push_observer_data()</tspan><tspan x="1438.3" dy="14.65">+ get_push_observer_data</tspan><tspan x="1438.3" dy="14.65">_control()</tspan><tspan x="1438.3" dy="14.65">+ get_push_observer_dds</tspan><tspan x="1438.3" dy="14.65">_entity()</tspan><tspan x="1438.3" dy="14.65">+ get_push_observer_filter</tspan><tspan x="1438.3" dy="14.65">_config()</tspan><tspan x="1438.3" dy="14.65">+ push_observer_filter()</tspan><tspan x="1438.3" dy="14.65">+ push_observer_filter()</tspan><tspan x="1438.3" dy="14.65">+ get_push_state_observer_data()</tspan><tspan x="1438.3" dy="14.65">+ get_push_state_observer</tspan><tspan x="1438.3" dy="14.65">_data_control()</tspan><tspan x="1438.3" dy="14.65">+ get_push_state_observer</tspan><tspan x="1438.3" dy="14.65">_dds_entity()</tspan><tspan x="1438.3" dy="14.65">+ get_push_state_observer</tspan><tspan x="1438.3" dy="14.65">_filter_config()</tspan><tspan x="1438.3" dy="14.65">+ push_state_observer</tspan><tspan x="1438.3" dy="14.65">_filter()</tspan><tspan x="1438.3" dy="14.65">+ push_state_observer</tspan><tspan x="1438.3" dy="14.65">_filter()</tspan><tspan x="1438.3" dy="14.65">- do_configuration_complete()</tspan><tspan x="1438.3" dy="14.65">- do_ccm_activate()</tspan><tspan x="1438.3" dy="14.65">- do_ccm_remove()</tspan><tspan x="1438.3" dy="14.65">* get_observable_data()</tspan><tspan x="1438.3" dy="14.65">* get_observable_dds</tspan><tspan x="1438.3" dy="14.65">_entity()</tspan><tspan x="1438.3" dy="14.65">* get_passive_observer_data()</tspan><tspan x="1438.3" dy="14.65">* get_passive_observer</tspan><tspan x="1438.3" dy="14.65">_dds_entity()</tspan><tspan x="1438.3" dy="14.65">* get_passive_observer</tspan><tspan x="1438.3" dy="14.65">_filter_config()</tspan><tspan x="1438.3" dy="14.65">* passive_observer_filter()</tspan><tspan x="1438.3" dy="14.65">* passive_observer_filter()</tspan><tspan x="1438.3" dy="14.65">* get_pull_observer_data()</tspan><tspan x="1438.3" dy="14.65">* get_pull_observer_fresh_data()</tspan><tspan x="1438.3" dy="14.65">* get_pull_observer_dds</tspan><tspan x="1438.3" dy="14.65">_entity()</tspan><tspan x="1438.3" dy="14.65">* get_pull_observer_filter</tspan><tspan x="1438.3" dy="14.65">_config()</tspan><tspan x="1438.3" dy="14.65">* pull_observer_filter()</tspan><tspan x="1438.3" dy="14.65">* pull_observer_filter()</tspan><tspan x="1438.3" dy="14.65">* get_push_observer_data()</tspan><tspan x="1438.3" dy="14.65">* get_push_observer_data</tspan><tspan x="1438.3" dy="14.65">_control()</tspan><tspan x="1438.3" dy="14.65">* get_push_observer_dds</tspan><tspan x="1438.3" dy="14.65">_entity()</tspan><tspan x="1438.3" dy="14.65">* get_push_observer_filter</tspan><tspan x="1438.3" dy="14.65">_config()</tspan><tspan x="1438.3" dy="14.65">* push_observer_filter()</tspan><tspan x="1438.3" dy="14.65">* push_observer_filter()</tspan><tspan x="1438.3" dy="14.65">* get_push_state_observer_data()</tspan><tspan x="1438.3" dy="14.65">* get_push_state_observer</tspan><tspan x="1438.3" dy="14.65">_data_control()</tspan><tspan x="1438.3" dy="14.65">* get_push_state_observer</tspan><tspan x="1438.3" dy="14.65">_dds_entity()</tspan><tspan x="1438.3" dy="14.65">* get_push_state_observer</tspan><tspan x="1438.3" dy="14.65">_filter_config()</tspan><tspan x="1438.3" dy="14.65">* push_state_observer</tspan><tspan x="1438.3" dy="14.65">_filter()</tspan><tspan x="1438.3" dy="14.65">* push_state_observer</tspan><tspan x="1438.3" dy="14.65">_filter()</tspan></text>
</g>
</g>
</svg>
